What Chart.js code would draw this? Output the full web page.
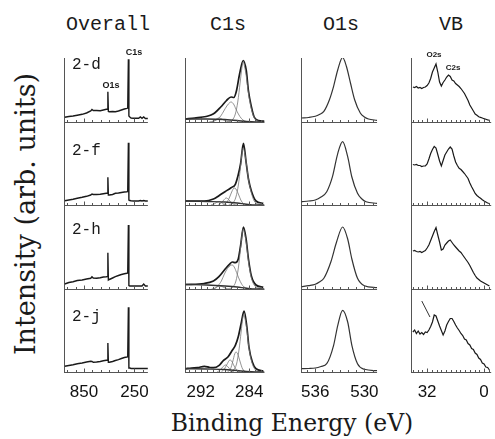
<!DOCTYPE html>
<html><head><meta charset="utf-8">
<script src="https://cdn.jsdelivr.net/npm/chart.js@4.4.1/dist/chart.umd.min.js"></script>
<style>
html,body{margin:0;padding:0;background:#fff;width:495px;height:439px;overflow:hidden;position:relative}
canvas{position:absolute}
.t{position:absolute;white-space:nowrap;color:#1a1a1a;line-height:1;transform:translate(-50%,-50%)}
.ttl{font-family:"Liberation Mono",monospace;font-size:20px}
.lab{font-family:"Liberation Mono",monospace;font-size:16px;transform:translate(0,-50%)}
.ann{font-family:"Liberation Sans",Arial,sans-serif;font-size:9px;font-weight:bold}
.axt{font-family:"DejaVu Serif",serif;font-size:23.5px}
</style></head><body>
<canvas id="k1" width="98" height="349" style="left:61px;top:53px"></canvas>
<canvas id="k2" width="96" height="349" style="left:177px;top:53px"></canvas>
<canvas id="k3" width="96" height="349" style="left:292px;top:53px"></canvas>
<canvas id="k4" width="91" height="349" style="left:408px;top:53px"></canvas>

<div class="t ttl" style="left:108px;top:25px">Overall</div>
<div class="t ttl" style="left:228px;top:25px">C1s</div>
<div class="t ttl" style="left:341px;top:25px">O1s</div>
<div class="t ttl" style="left:451px;top:25px">VB</div>

<div class="t lab" style="left:72px;top:65px">2-d</div>
<div class="t lab" style="left:72px;top:151px">2-f</div>
<div class="t lab" style="left:72px;top:230px">2-h</div>
<div class="t lab" style="left:72px;top:317px">2-j</div>

<div class="t ann" style="left:111px;top:85px">O1s</div>
<div class="t ann" style="left:134px;top:52px">C1s</div>
<div class="t ann" style="left:434px;top:55px;font-size:8px">O2s</div>
<div class="t ann" style="left:453px;top:68px;font-size:8px">C2s</div>

<div class="t axt" style="left:25px;top:214px;font-size:27px;transform:translate(-50%,-50%) rotate(-90deg)">Intensity (arb. units)</div>
<div class="t axt" style="left:292px;top:424px">Binding Energy (eV)</div>

<script>
// ---------- Overall survey ----------
const overallEnergy = [1080,1030,980,930,872,820,770,755,740,700,657,620,585,572,566,560,549,510,477,440,405,370,340,330,322,316,305,290,262,230,200,180,160,140,120,90];
const overall_2d = [4.7,5.5,6,6.8,7.7,9,11,12.5,11.5,11.5,11.3,12,12.7,12.7,30.3,10.5,10.3,10.5,10.3,11,12,13,13.7,14,62.7,6,5,4,3.7,3.7,3.7,5,3.7,5,3.5,3.5];
const overall_2f = [4.3,5,5.7,6.7,7.7,8.7,10,11,10.5,10.5,10.7,11.2,11.7,11.7,27.7,10,10,10.5,11.7,12,12.5,13,13.3,13.5,62.3,5,4.5,4.3,4,4,4,4.5,4,4.5,4,4];
const overall_2h = [5,6.5,7.3,8.5,9,10,10.7,12.3,11,10.7,11.2,12,12.3,12.5,36.3,9,9.5,11,12.3,13.5,14.5,15.3,15.7,16,64,3.5,3,3,3,3,3,3,3,5,3,3];
const overall_2j = [5.7,6.5,7.3,8.3,9,10,10.7,10.5,9.7,10,10.5,11.2,11.7,11.7,29,9.7,9.7,10.5,11.5,12.3,13.5,14.5,15,15.2,64.7,4,4,3.5,3.5,3.5,3.5,3.5,3.5,3.5,3.5,3.5];
const overallTicks = [850,250];
const overallMinor = [1050,950,850,750,650,550,450,350,250,150];

// ---------- C1s (envelope, components, background) ----------
const c1s_env_2d = [[294.5,3],[293,4],[291.1,5.5],[290.3,7],[289.7,9],[288.7,15],[287.75,21.5],[287.0,25],[286.55,24.5],[286.1,31.5],[285.6,48],[285.0,61.5],[284.5,51.5],[284.15,31.5],[283.65,15],[283.2,5],[282.5,1.5],[281.5,0.8]];
const c1s_main_2d = [[287.6,0],[286.8,2],[286.3,8],[285.9,20],[285.5,40],[285.2,55],[285.0,60],[284.8,56],[284.5,46],[284.15,29],[283.7,14],[283.2,4.5],[282.6,1],[281.8,0]];
const c1s_c2_2d = [[290.2,0],[289.4,2],[288.7,6],[288.2,11],[287.7,16],[287.2,19.5],[287.0,20],[286.6,18],[286.2,13],[285.8,8],[285.3,3.5],[284.8,1],[284.2,0]];
const c1s_c3_2d = [[290.6,0],[289.9,1],[289.4,3],[289.0,4],[288.6,3.3],[288.1,1.5],[287.5,0.3],[287.0,0]];
const c1s_bg_2d = [[294.5,3],[291,3],[288,2.5],[286,1.5],[284.5,0.5],[283,0],[281.5,0]];

const c1s_env_2f = [[294.5,4],[291.4,4],[289.9,6],[289.0,9.3],[288.0,13.3],[287.0,17.3],[286.3,20.7],[285.83,30],[285.44,41],[284.96,61.7],[284.53,43],[284.14,26],[283.66,14],[282.9,4],[281.7,1.7]];
const c1s_main_2f = [[287.4,0],[286.7,2],[286.2,8],[285.8,20],[285.45,38],[285.2,52],[285.0,57],[284.8,53],[284.5,42],[284.15,26],[283.7,13],[283.2,4],[282.6,1],[281.8,0]];
const c1s_c2_2f = [[288.4,0],[287.8,2],[287.3,7],[286.9,13],[286.5,17],[286.2,16],[285.8,11],[285.4,5],[285.0,1.5],[284.5,0]];
const c1s_c3_2f = [[289.1,0],[288.6,2],[288.2,5],[287.8,7],[287.4,5.5],[287.0,2.5],[286.5,0.5],[286.0,0]];
const c1s_c4_2f = [[290.3,0],[289.8,1],[289.4,2.5],[289.0,3.5],[288.6,2.5],[288.2,1],[287.7,0]];
const c1s_bg_2f = [[294.5,4],[291,3.5],[288,3],[286,2],[284.5,0.8],[283,0],[281.5,0]];

const c1s_env_2h = [[294.5,4.5],[291.4,5.5],[289.9,8],[289.0,12.3],[288.0,19.7],[287.27,24.7],[286.8,27],[286.3,26.3],[285.83,29.7],[285.44,43],[284.96,62],[284.53,50],[284.14,30],[283.66,13],[282.9,4],[281.7,1.7]];
const c1s_main_2h = [[287.4,0],[286.7,2],[286.2,8],[285.8,21],[285.45,40],[285.2,54],[285.0,60],[284.8,56],[284.5,46],[284.15,28],[283.7,12],[283.2,4],[282.6,1],[281.8,0]];
const c1s_c2_2h = [[289.8,0],[289.2,3],[288.6,8],[288.1,15],[287.6,20.5],[287.1,23.5],[286.8,24],[286.4,21],[286.0,15],[285.6,9],[285.1,3.5],[284.6,1],[284.0,0]];
const c1s_c3_2h = [[290.2,0],[289.6,1],[289.2,2.5],[288.8,3],[288.4,2.2],[287.9,0.8],[287.3,0]];
const c1s_bg_2h = [[294.5,4.5],[291,4],[288,3],[286,2],[284.5,0.8],[283,0],[281.5,0]];

const c1s_env_2j = [[294.5,3.3],[293.5,4],[292.5,4.3],[291.4,5.7],[290.5,4.5],[289.9,4.3],[288.96,6.7],[288.24,11.7],[287.52,15],[286.8,21.7],[286.3,26.7],[285.83,35],[285.35,48.3],[284.86,61],[284.4,45],[284.06,25],[283.5,10],[282.9,3.3],[281.7,1]];
const c1s_main_2j = [[287.2,0],[286.6,2],[286.1,8],[285.7,22],[285.35,40],[285.1,53],[284.9,57],[284.7,53],[284.4,42],[284.06,24],[283.6,10],[283.1,3],[282.5,0.5],[281.8,0]];
const c1s_c2_2j = [[287.6,0],[287.1,3],[286.7,11],[286.4,18],[286.2,20],[285.9,18],[285.5,10],[285.1,3],[284.6,0]];
const c1s_c3_2j = [[288.6,0],[288.1,3],[287.6,8.5],[287.2,12],[286.9,11],[286.5,6],[286.0,1.5],[285.5,0]];
const c1s_c4_2j = [[289.3,0],[288.8,2],[288.3,5.5],[287.9,7],[287.5,5],[287.0,1.5],[286.5,0]];
const c1s_bg_2j = [[294.5,3.3],[291,3],[288,2.5],[286,1.5],[284.5,0.5],[283,0],[281.5,0]];
const c1sTicks = [292,284];
const c1sMinor = [294,293,292,291,290,289,288,287,286,285,284,283,282];

// ---------- O1s ----------
const o1s_2d = [[537.7,4],[536.8,4.5],[536.0,5.7],[535.5,7.5],[534.95,10.7],[534.27,22.3],[533.76,35.7],[533.25,52.3],[532.66,64.5],[532.2,55.7],[531.7,39],[531.19,22.3],[530.5,9],[530.0,5],[529.5,3],[528.45,1.7]];
const o1s_2f = [[537.7,3.3],[536.8,4],[536.0,5],[535.3,8],[534.6,13.3],[533.9,28.3],[533.25,51.7],[532.66,63.3],[532.04,48.3],[531.53,28],[530.84,11.7],[530.3,6],[529.8,3.3],[528.45,1.7]];
const o1s_2h = [[537.7,2.3],[536.8,3.3],[536.0,4.7],[535.5,7],[534.95,10.7],[534.1,27],[533.4,47],[532.66,62],[532.04,50],[531.53,30],[530.84,10.7],[530.0,3.3],[528.45,1.3]];
const o1s_2j = [[537.7,3.3],[536.8,3.5],[536.0,4],[535.3,5.5],[534.6,8.3],[533.76,26.7],[533.25,46.7],[532.66,61.7],[532.04,50],[531.53,26.7],[530.84,8.3],[530.0,2.7],[528.45,1.3]];
const o1sTicks = [536,530];
const o1sMinor = [537,536,535,534,533,532,531,530,529];

// ---------- Valence band ----------
const vbEnergy = [40,39,38,37,36,35,34,33,32,31,30,29,28,27,26,25,24,23,22,21,20,19,18,17,16,15,14,13,12,11,10,9,8,7,6,5,4,3,2,1,0,-1,-2,-3];
const vb_2d = [35,34.5,35.5,34,34.5,33.5,34.5,35,36.5,39,43.5,50,54,58,50,40,36,39.5,42,45,47,45.5,42,41,38.5,37,35.5,33.5,31,28.5,25,21.5,17,14,11,8,6.8,5.3,4.6,4,3.3,2.8,2.2,1.8];
const vb_2f = [40.5,40,40.5,39.5,39.5,38.5,39,39,41,46,51.5,55.5,58.5,57,50.5,44,39,44.5,50,53,56,58,56,49,43,39.5,36.7,35.5,33.5,31.5,29,26.5,22,18.3,15,11.5,9.5,8,6.7,5.2,4,3,2,1.5];
const vb_2h = [38,38.5,37.5,37,37.5,36.5,37.5,38.5,41,44,48.5,53,57.5,61.5,54,47,39,40,44,46,48,49,46.5,44,42,40,38,36.5,34,31.5,29,26.5,23.5,20,16.5,13.5,11,9.5,8,7,6,5,4,3];
const vb_2j = [40,42,38.5,41,38,39.5,37.5,40,39.5,42,45.5,50,57,56,51,46,41.5,37,41,47,50.5,53.5,53.5,50.5,47,44,41.5,38.5,36.5,33,32,28.5,27,23.5,22.5,19,17.5,14,12.5,9,8,5,4.5,2];
const vbArrow = [[35.0,71],[30.4,55]];
const vbTicks = [32,0];
const vbMinor = [40,37.3,34.7,32,29.3,26.7,24,21.3,18.7,16,13.3,10.7,8,5.3,2.7,0,-2.7];

const rowIds = ['y1','y2','y3','y4'];
const rowWeights = [64,83,84,83];

const baseTicks = {
  id:'baseTicks',
  afterDraw(chart, args, opts){
    const ctx = chart.ctx, xs = chart.scales.x;
    ctx.save(); ctx.strokeStyle = '#555'; ctx.lineWidth = 1;
    rowIds.forEach(id => {
      const y = Math.round(chart.scales[id].getPixelForValue(0)) + 0.5;
      opts.minor.forEach(v => {
        const px = Math.round(xs.getPixelForValue(v)) + 0.5;
        const len = opts.major.includes(v) ? 4 : 2.5;
        ctx.beginPath(); ctx.moveTo(px, y); ctx.lineTo(px, y - len); ctx.stroke();
      });
    });
    ctx.restore();
  }
};

function pairs(xs, ys){ return xs.map((x,i)=>({x:x, y:ys[i]})); }
function pts(arr){ return arr.map(p=>({x:p[0], y:p[1]})); }

function ds(data, row, color, width, smooth){
  return {data:data, yAxisID:row, xAxisID:'x', borderColor:color, borderWidth:width,
    pointRadius:0, fill:false, tension: smooth ? 0.4 : 0,
    cubicInterpolationMode: smooth ? 'monotone' : 'default'};
}

function makeChart(id, xMin, xMax, ticks, minor, datasets){
  const scales = {
    x:{type:'linear', reverse:true, min:xMin, max:xMax, position:'bottom',
      afterBuildTicks: s => { s.ticks = ticks.map(v => ({value:v})); },
      afterFit: s => { s.height = 30; },
      grid:{display:false, drawTicks:false}, border:{display:false},
      ticks:{autoSkip:false, maxRotation:0, minRotation:0, padding:10, color:'#111',
        font:{family:'Liberation Sans', size:17}}}
  };
  rowIds.forEach((rid,i) => {
    scales[rid] = {type:'linear', position:'left', stack:'rows', stackWeight:rowWeights[i], weight:4-i,
      min:0, max:rowWeights[i],
      afterFit: s => { s.width = 0; },
      afterBuildTicks: s => { s.ticks = [{value:0}]; },
      ticks:{display:false},
      grid:{display:true, drawTicks:false, color:'#555', lineWidth:1},
      border:{display:true, color:'#555', width:1}};
  });
  return new Chart(document.getElementById(id), {
    type:'line',
    data:{datasets:datasets},
    options:{responsive:false, animation:false, events:[],
      layout:{autoPadding:false, padding:{left:3, right:3, top:5, bottom:0}},
      plugins:{legend:{display:false}, tooltip:{enabled:false}, title:{display:false},
        baseTicks:{minor:minor, major:ticks}},
      scales:scales},
    plugins:[baseTicks]
  });
}

const K = '#1a1a1a', G = '#777';

makeChart('k1', 90, 1080, overallTicks, overallMinor, [
  ds(pairs(overallEnergy, overall_2d), 'y1', K, 1.4, false),
  ds(pairs(overallEnergy, overall_2f), 'y2', K, 1.4, false),
  ds(pairs(overallEnergy, overall_2h), 'y3', K, 1.4, false),
  ds(pairs(overallEnergy, overall_2j), 'y4', K, 1.4, false)
]);

makeChart('k2', 281.5, 294.5, c1sTicks, c1sMinor, [
  ds(pts(c1s_bg_2d), 'y1', '#333', 1.4, true),
  ds(pts(c1s_c3_2d), 'y1', G, 0.8, true),
  ds(pts(c1s_c2_2d), 'y1', G, 0.8, true),
  ds(pts(c1s_main_2d), 'y1', G, 0.8, true),
  ds(pts(c1s_env_2d), 'y1', K, 1.7, true),
  ds(pts(c1s_bg_2f), 'y2', '#333', 1.4, true),
  ds(pts(c1s_c4_2f), 'y2', G, 0.8, true),
  ds(pts(c1s_c3_2f), 'y2', G, 0.8, true),
  ds(pts(c1s_c2_2f), 'y2', G, 0.8, true),
  ds(pts(c1s_main_2f), 'y2', G, 0.8, true),
  ds(pts(c1s_env_2f), 'y2', K, 1.7, true),
  ds(pts(c1s_bg_2h), 'y3', '#333', 1.4, true),
  ds(pts(c1s_c3_2h), 'y3', G, 0.8, true),
  ds(pts(c1s_c2_2h), 'y3', G, 0.8, true),
  ds(pts(c1s_main_2h), 'y3', G, 0.8, true),
  ds(pts(c1s_env_2h), 'y3', K, 1.7, true),
  ds(pts(c1s_bg_2j), 'y4', '#333', 1.4, true),
  ds(pts(c1s_c4_2j), 'y4', G, 0.8, true),
  ds(pts(c1s_c3_2j), 'y4', G, 0.8, true),
  ds(pts(c1s_c2_2j), 'y4', G, 0.8, true),
  ds(pts(c1s_main_2j), 'y4', G, 0.8, true),
  ds(pts(c1s_env_2j), 'y4', K, 1.7, true)
]);

makeChart('k3', 528.45, 537.7, o1sTicks, o1sMinor, [
  ds(pts(o1s_2d), 'y1', '#333', 1.2, true),
  ds(pts(o1s_2f), 'y2', '#333', 1.2, true),
  ds(pts(o1s_2h), 'y3', '#333', 1.2, true),
  ds(pts(o1s_2j), 'y4', '#333', 1.2, true)
]);

makeChart('k4', -4, 40.6, vbTicks, vbMinor, [
  ds(pairs(vbEnergy, vb_2d), 'y1', K, 1.2, false),
  ds(pairs(vbEnergy, vb_2f), 'y2', K, 1.2, false),
  ds(pairs(vbEnergy, vb_2h), 'y3', K, 1.2, false),
  ds(pairs(vbEnergy, vb_2j), 'y4', K, 1.2, false),
  ds(pts(vbArrow), 'y4', '#333', 1, false)
]);
</script>
</body></html>
